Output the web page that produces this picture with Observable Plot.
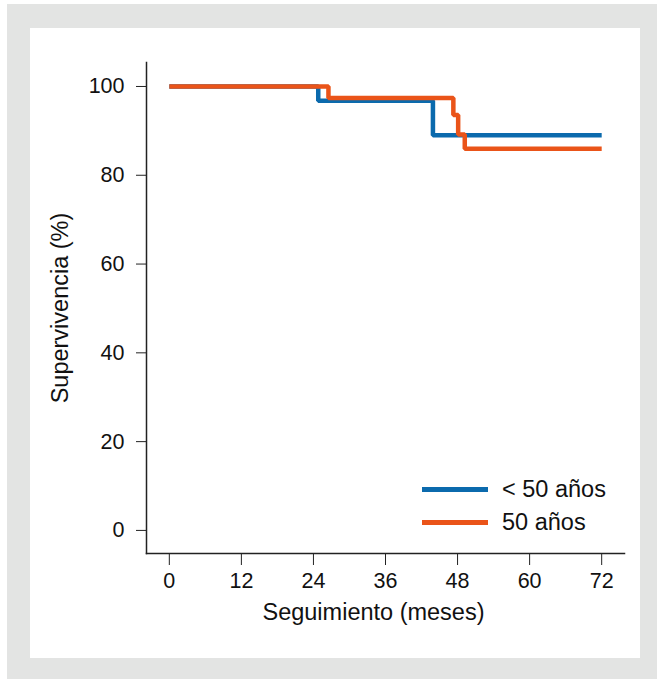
<!DOCTYPE html>
<html>
<head>
<meta charset="utf-8">
<script src="https://cdn.jsdelivr.net/npm/d3@7"></script>
<script src="https://cdn.jsdelivr.net/npm/@observablehq/plot@0.6"></script>
<style>
  html, body { margin: 0; padding: 0; background: #fff; }
  #wrap { position: relative; width: 657px; height: 679px; overflow: hidden; font-family: "Liberation Sans", Arial, Helvetica, sans-serif; }
  #bg { position: absolute; left: 7px; top: 4px; width: 650px; height: 675px; background: #e3e4e3; }
  #panel { position: absolute; left: 30px; top: 28px; width: 610px; height: 630px; background: #fff; }
  #chart { position: absolute; left: 0; top: 0; }
  #legend { position: absolute; left: 422px; top: 473px; font-size: 23.5px; color: #111; }
  .row { display: flex; align-items: center; height: 33px; }
  .sw { width: 66px; height: 5px; margin-right: 14px; }
</style>
</head>
<body>
<div id="wrap">
  <div id="bg"></div>
  <div id="panel"></div>
  <div id="chart"></div>
  <div id="legend"></div>
</div>
<script>
const seriesNames = ["< 50 años", "50 años"];
const seriesColors = ["#0b6aad", "#ea5419"];
const blueTimes = [0, 24.8, 43.9, 72];
const blueSurv = [100, 96.8, 89.0, 89.0];
const orangeTimes = [0, 26.5, 47.3, 48.1, 49.2, 72];
const orangeSurv = [100, 97.4, 93.6, 89.2, 86.0, 86.0];
const xTicks = [0, 12, 24, 36, 48, 60, 72];
const yTicks = [0, 20, 40, 60, 80, 100];
const xLabel = "Seguimiento (meses)";
const yLabel = "Supervivencia (%)";

const rows = [
  ...blueTimes.map((t, i) => ({t, s: blueSurv[i], g: seriesNames[0]})),
  ...orangeTimes.map((t, i) => ({t, s: orangeSurv[i], g: seriesNames[1]}))
];

const font = "Liberation Sans, Arial, Helvetica, sans-serif";
const chart = Plot.plot({
  width: 657,
  height: 679,
  marginLeft: 146,
  marginRight: 33,
  marginTop: 62,
  marginBottom: 126,
  style: {background: "transparent", fontFamily: font, fontSize: "21.5px", color: "#111"},
  x: {domain: [-3.8, 75.8]},
  y: {domain: [-5.2, 105.4]},
  color: {domain: seriesNames, range: seriesColors},
  marks: [
    Plot.axisX({ticks: xTicks, tickSize: 12, tickPadding: 7, fontSize: 21.5, label: null, stroke: "#222"}),
    Plot.axisY({ticks: yTicks, tickSize: 10, tickPadding: 12, fontSize: 21.5, label: null, stroke: "#222"}),
    Plot.text([xLabel], {frameAnchor: "bottom", dx: -12, dy: 66, fontSize: 23.5, fill: "#111"}),
    Plot.axisY({ticks: [], tickSize: 0, fontSize: 23.5, label: yLabel, labelAnchor: "center", labelArrow: "none", labelOffset: 95}),
    Plot.frame({anchor: "left", stroke: "#222", strokeWidth: 1.5}),
    Plot.frame({anchor: "bottom", stroke: "#222", strokeWidth: 1.5}),
    Plot.line(rows, {x: "t", y: "s", z: "g", stroke: "g", curve: "step-after", strokeWidth: 4.5, strokeLinejoin: "miter", strokeLinecap: "butt"})
  ]
});
document.getElementById("chart").appendChild(chart);

const legend = document.getElementById("legend");
seriesNames.forEach((n, i) => {
  const r = document.createElement("div");
  r.className = "row";
  const sw = document.createElement("div");
  sw.className = "sw";
  sw.style.background = seriesColors[i];
  const tx = document.createElement("span");
  tx.textContent = n;
  r.appendChild(sw); r.appendChild(tx);
  legend.appendChild(r);
});
</script>
</body>
</html>
